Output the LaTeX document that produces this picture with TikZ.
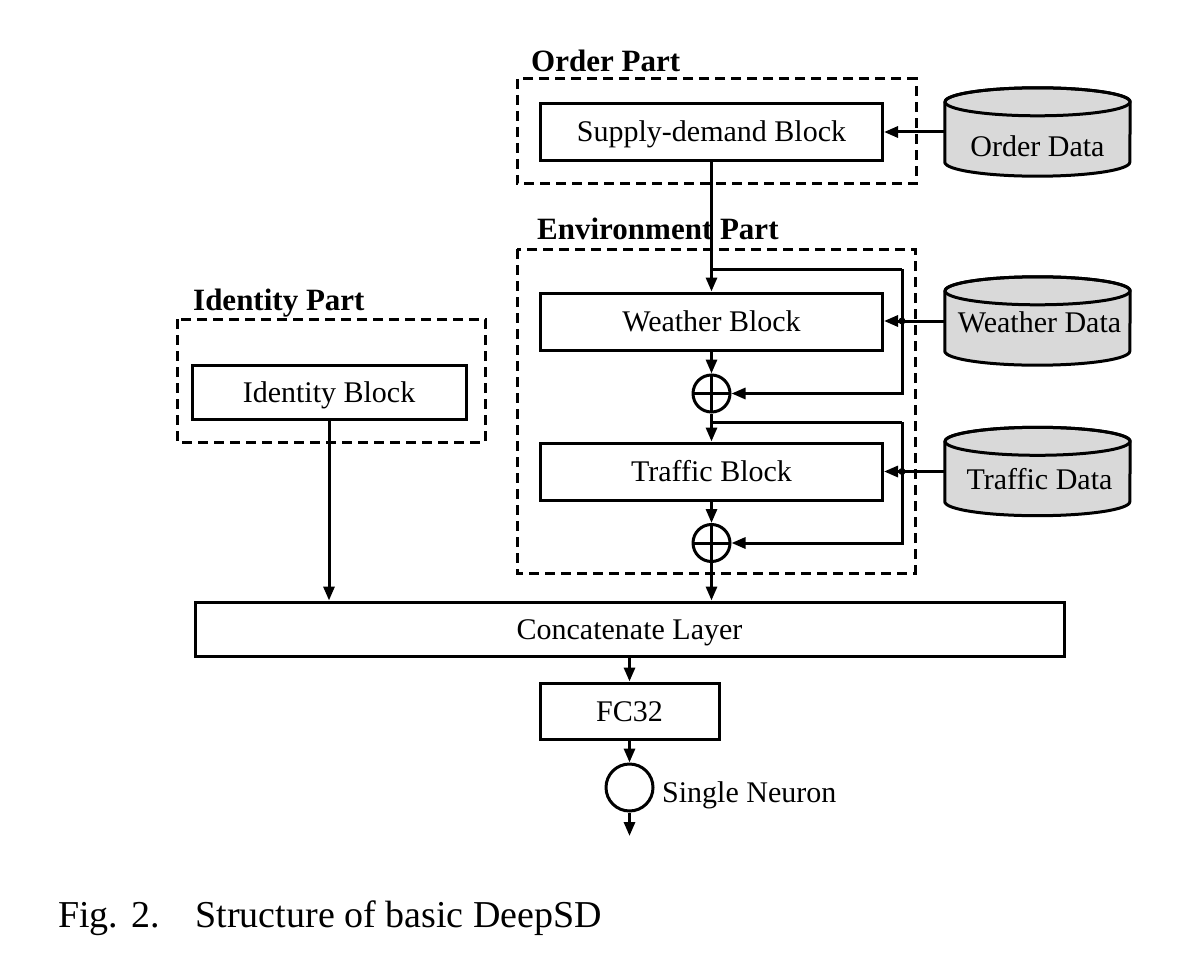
\documentclass[tikz,border=0pt]{standalone}
\usepackage{fontspec}
\setmainfont{Liberation Serif}
\usetikzlibrary{arrows.meta,calc}
\definecolor{cylgray}{HTML}{D9D9D9}
\newcommand\drawcyl[1]{%
  \draw[cylline,fill=cylgray] ($(#1.north west)+(0,14)$) -- ($(#1.south west)+(0,-14)$)
     arc[start angle=180,end angle=0,x radius=92.5,y radius=14]
     -- ($(#1.north east)+(0,14)$)
     arc[start angle=0,end angle=-180,x radius=92.5,y radius=14] -- cycle;
  \draw[cylline] ($(#1.north)+(0,14)$) ellipse[x radius=92.5,y radius=14];
}
\begin{document}
\begin{tikzpicture}[x=1pt,y=-1pt,
  lw/.style={line width=3pt},
  cylline/.style={line width=3pt,line join=round},
  blk/.style={draw,lw,inner sep=0pt,minimum height=57pt,
     font=\fontsize{30}{36}\selectfont,text height=20pt,text depth=0pt},
  txt/.style={inner sep=0pt,font=\fontsize{30}{36}\selectfont,text height=20pt,text depth=0pt},
  part/.style={inner sep=0pt,anchor=base west,font=\fontsize{31}{37}\selectfont\bfseries},
  dbox/.style={draw,lw,dash pattern=on 10pt off 6pt},
  cylbox/.style={inner sep=0pt,minimum width=185pt,minimum height=88pt},
  arr/.style={lw,-{Triangle[length=14pt,width=11pt]}},
  plus/.style={circle,draw,lw,minimum size=37pt,inner sep=0pt,
     path picture={\draw[lw] (path picture bounding box.north) -- (path picture bounding box.south)
                              (path picture bounding box.west) -- (path picture bounding box.east);}},
  neuron/.style={circle,draw,lw,minimum size=47pt,inner sep=0pt}
]
\useasboundingbox (0,0) rectangle (1180,960);

% dashed part boxes
\draw[dbox] (517,79) rectangle (916,184);
\draw[dbox] (517,249) rectangle (915,573);
\draw[dbox] (177,319) rectangle (485,442);

% part labels
\node[part] (lorder) at (531,72) {Order Part};
\node[part] (lenv) at (537,239) {Environment Part};
\node[part] (lid) at (193,310) {Identity Part};

% blocks
\node[blk,minimum width=342pt] (sd) at (711.5,132) {Supply-demand Block};
\node[blk,minimum width=342pt] (wb) at (711.5,321.5) {Weather Block};
\node[blk,minimum width=342pt] (tb) at (711.5,471.5) {Traffic Block};
\node[blk,minimum width=274pt,minimum height=54pt] (ib) at (329,392) {Identity Block};
\node[blk,minimum width=869pt,minimum height=54pt] (cl) at (629.5,629) {Concatenate Layer};
\node[blk,minimum width=179pt,minimum height=56pt] (fc) at (629.5,711) {FC32};

\node[plus] (op1) at (711.5,393.5) {};
\node[plus] (op2) at (711.5,543) {};
\node[neuron] (nr) at (629.5,787.5) {};
\node[txt,anchor=west] (nrl) at (662,792) {Single Neuron};

% cylinders
\node[cylbox] (od) at (1037.5,132) {};
\node[cylbox] (wd) at (1037.5,321) {};
\node[cylbox] (td) at (1037.5,471.5) {};
\drawcyl{od}
\drawcyl{wd}
\drawcyl{td}
\node[txt] (odt) at (1037.5,147) {Order Data};
\node[txt] (wdt) at (1039.5,322) {Weather Data};
\node[txt] (tdt) at (1039.5,479) {Traffic Data};

% coordinates for branches
\coordinate (b1) at (711.5,269);
\coordinate (b1r) at (902,269);
\coordinate (b2) at (711.5,422);
\coordinate (b2r) at (902,422);
\coordinate (out) at (629.5,836);

% connectors
\draw[arr] (od.west) -- (od.west -| sd.east);
\draw[arr] (sd.south) -- (wb.north);
\draw[lw] (b1) -- (b1r);
\draw[arr] (b1r) |- (op1.east);
\draw[arr] (wd.west) -- (wd.west -| wb.east);
\fill ($(wd.west -| b1r)$) circle[radius=3.5];
\draw[arr] (wb.south) -- (op1.north);
\draw[arr] (op1.south) -- (tb.north);
\draw[lw] (b2) -- (b2r);
\draw[arr] (b2r) |- (op2.east);
\draw[arr] (td.west) -- (td.west -| tb.east);
\fill ($(td.west -| b2r)$) circle[radius=3.5];
\draw[arr] (tb.south) -- (op2.north);
\draw[arr] (op2.south) -- (op2.south |- cl.north);
\draw[arr] (ib.south) -- (ib.south |- cl.north);
\draw[arr] (cl.south) -- (fc.north);
\draw[arr] (fc.south) -- (nr.north);
\draw[arr] (nr.south) -- (out);

% caption
\node[inner sep=0pt,anchor=base west,font=\fontsize{38}{46}\selectfont] (cap) at (58,927)
  {Fig. 2.\hspace{0.95em}Structure of basic DeepSD};
\end{tikzpicture}
\end{document}
